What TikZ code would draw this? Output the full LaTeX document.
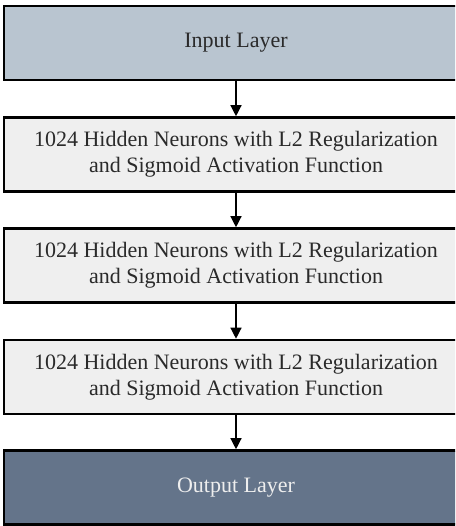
\documentclass[tikz,border=0pt]{standalone}
\usepackage{fontspec}
\setmainfont{Liberation Serif}
\usetikzlibrary{arrows.meta}
\definecolor{inblue}{HTML}{B9C5D0}
\definecolor{hidgray}{HTML}{EFEFEF}
\definecolor{outblue}{HTML}{64748A}
\definecolor{txtdark}{HTML}{2A2A2A}
\definecolor{txtlight}{HTML}{EEEEEE}
\begin{document}
\begin{tikzpicture}[x=1pt,y=-1pt,
  layerbox/.style={draw=black,line width=2.6pt,minimum width=464pt,minimum height=74pt,
    inner sep=0pt,font=\fontsize{22}{26}\selectfont,align=center,text=txtdark},
  inbox/.style={layerbox,fill=inblue},
  hidbox/.style={layerbox,fill=hidgray},
  outbox/.style={layerbox,fill=outblue,text=txtlight},
  flow/.style={line width=1.3pt,-{Triangle[length=11pt,width=11pt]}}]
\useasboundingbox (0,0) rectangle (455,526);
\clip (0,0) rectangle (455,526);
\fill[white] (0,0) rectangle (455,526);
\node[inbox]  (in) at (236,43)  {Input Layer};
\node[hidbox] (h1) at (236,154.5) {1024 Hidden Neurons with L2 Regularization\\and Sigmoid Activation Function};
\node[hidbox] (h2) at (236,265.5) {1024 Hidden Neurons with L2 Regularization\\and Sigmoid Activation Function};
\node[hidbox] (h3) at (236,377) {1024 Hidden Neurons with L2 Regularization\\and Sigmoid Activation Function};
\node[outbox] (out) at (236,487.5) {Output Layer};
\draw[flow] (in.south) -- (h1.north);
\draw[flow] (h1.south) -- (h2.north);
\draw[flow] (h2.south) -- (h3.north);
\draw[flow] (h3.south) -- (out.north);
\end{tikzpicture}
\end{document}
